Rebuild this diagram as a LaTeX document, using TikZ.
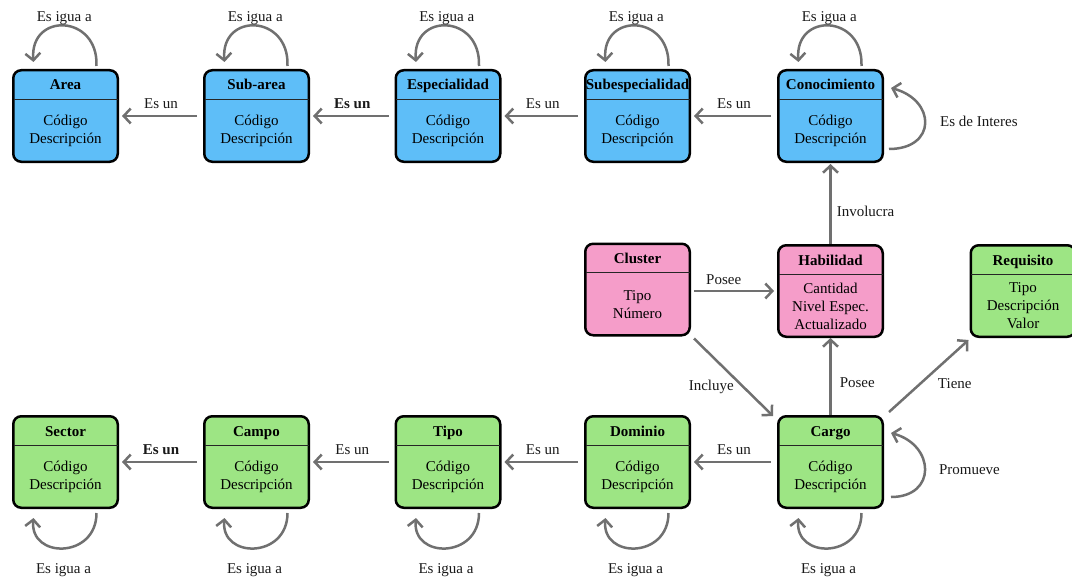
\documentclass[tikz,border=0pt]{standalone}
\usepackage{fontspec}
\setmainfont{Liberation Serif}
\usetikzlibrary{arrows.meta}

\definecolor{entblue}{RGB}{94,190,248}
\definecolor{entpink}{RGB}{245,157,201}
\definecolor{entgreen}{RGB}{157,229,132}
\definecolor{linkgray}{RGB}{112,112,112}

\tikzset{
  ebox/.style={draw=black, line width=2.5pt, rounded corners=8pt,
    minimum width=104.5pt, minimum height=91.5pt, inner sep=0pt},
  divider/.style={draw=black!85, line width=0.8pt, shorten <=1.5pt, shorten >=1.5pt},
  etitle/.style={font=\fontsize{15}{18}\selectfont\bfseries, inner sep=0pt,
    text height=10.5pt, text depth=3.5pt},
  ebody/.style={font=\fontsize{15}{18}\selectfont, align=center, inner sep=0pt},
  link/.style={draw=linkgray, line width=2.5pt,
    -{Straight Barb[length=7pt,width=15pt]}},
  lbl/.style={font=\fontsize{15}{18}\selectfont, inner sep=2pt, text=black!90},
  blbl/.style={lbl, font=\fontsize{15}{18}\selectfont\bfseries},
}

% entity box: name, x, y, fill, title, attributes
\newcommand{\entitynode}[6]{%
  \node[ebox, fill=#4] (#1) at (#2,#3) {};
  \draw[divider] ([yshift=-30pt]#1.north west) -- ([yshift=-30pt]#1.north east);
  \node[etitle] (#1-title) at ([yshift=-17.5pt]#1.north) {#5};
  \node[ebody] (#1-body) at ([yshift=32pt]#1.south) {#6};
}

% self loop above a box
\newcommand{\toploop}[1]{%
  \draw[link] ([xshift=31pt,yshift=3pt]#1.north) .. controls +(2,-52) and +(-4,-50) ..
    ([xshift=-32pt,yshift=7pt]#1.north) node[lbl, midway, above=-2pt] {Es igua a};
}
% self loop below a box
\newcommand{\bottomloop}[1]{%
  \draw[link] ([xshift=31pt,yshift=-4pt]#1.south) .. controls +(0,46) and +(-4,41) ..
    ([xshift=-32pt,yshift=-9pt]#1.south) node[lbl, midway, below=12pt] {Es igua a};
}

\begin{document}
\begin{tikzpicture}[x=1pt, y=-1pt]
  \useasboundingbox (0,0) rectangle (1072,578);

  % knowledge hierarchy
  \entitynode{area}{65.5}{116}{entblue}{Area}{Código\\Descripción}
  \entitynode{subarea}{256.5}{116}{entblue}{Sub-area}{Código\\Descripción}
  \entitynode{espec}{448}{116}{entblue}{Especialidad}{Código\\Descripción}
  \entitynode{subesp}{637.5}{116}{entblue}{Subespecialidad}{Código\\Descripción}
  \entitynode{cono}{830.5}{116}{entblue}{Conocimiento}{Código\\Descripción}

  % skills
  \entitynode{cluster}{637.5}{289.5}{entpink}{Cluster}{Tipo\\Número}
  \entitynode{habil}{830.5}{291}{entpink}{Habilidad}{Cantidad\\Nivel Espec.\\Actualizado}
  \entitynode{requi}{1023}{291}{entgreen}{Requisito}{Tipo\\Descripción\\Valor}

  % position hierarchy
  \entitynode{sector}{65.5}{462}{entgreen}{Sector}{Código\\Descripción}
  \entitynode{campo}{256.5}{462}{entgreen}{Campo}{Código\\Descripción}
  \entitynode{tipo}{448}{462}{entgreen}{Tipo}{Código\\Descripción}
  \entitynode{dominio}{637.5}{462}{entgreen}{Dominio}{Código\\Descripción}
  \entitynode{cargo}{830.5}{462}{entgreen}{Cargo}{Código\\Descripción}

  % "Es un" links, top row
  \draw[link, shorten <=6pt, shorten >=3pt] (subarea.west) -- (area.east)
    node[lbl, midway, above=4pt] {Es un};
  \draw[link, shorten <=6pt, shorten >=3pt] (espec.west) -- (subarea.east)
    node[blbl, midway, above=4pt] {Es un};
  \draw[link, shorten <=6pt, shorten >=3pt] (subesp.west) -- (espec.east)
    node[lbl, midway, above=4pt] {Es un};
  \draw[link, shorten <=6pt, shorten >=3pt] (cono.west) -- (subesp.east)
    node[lbl, midway, above=4pt] {Es un};

  % "Es un" links, bottom row
  \draw[link, shorten <=6pt, shorten >=3pt] (campo.west) -- (sector.east)
    node[blbl, midway, above=4pt] {Es un};
  \draw[link, shorten <=6pt, shorten >=3pt] (tipo.west) -- (campo.east)
    node[lbl, midway, above=4pt] {Es un};
  \draw[link, shorten <=6pt, shorten >=3pt] (dominio.west) -- (tipo.east)
    node[lbl, midway, above=4pt] {Es un};
  \draw[link, shorten <=6pt, shorten >=3pt] (cargo.west) -- (dominio.east)
    node[lbl, midway, above=4pt] {Es un};

  % equality loops
  \toploop{area}
  \toploop{subarea}
  \toploop{espec}
  \toploop{subesp}
  \toploop{cono}
  \bottomloop{sector}
  \bottomloop{campo}
  \bottomloop{tipo}
  \bottomloop{dominio}
  \bottomloop{cargo}

  % side loops
  \draw[link] ([xshift=5pt,yshift=-33pt]cono.east) .. controls +(48,0) and +(45,12) ..
    ([xshift=7pt,yshift=28pt]cono.east) node[lbl, midway, right=12pt, yshift=2pt] {Es de Interes};
  \draw[link] ([xshift=7pt,yshift=-35pt]cargo.east) .. controls +(46,0) and +(44,12) ..
    ([xshift=7pt,yshift=29pt]cargo.east) node[lbl, midway, right=11pt] {Promueve};

  % skill links
  \draw[link, shorten >=1pt] (habil.north) -- (cono.south)
    node[lbl, pos=0.4, right=3pt] {Involucra};
  \draw[link, shorten <=3pt, shorten >=3pt] (cluster.east |- habil.west) -- (habil.west)
    node[lbl, pos=0.38, above=3pt] {Posee};
  \draw[link] ([shift={(3pt,-2pt)}]cluster.south east) -- ([shift={(-4pt,-1pt)}]cargo.north west)
    node[lbl, pos=0.62, left=6pt] {Incluye};
  \draw[link] (cargo.north) -- (habil.south)
    node[lbl, pos=0.42, right=6pt] {Posee};
  \draw[link] ([shift={(5pt,3pt)}]cargo.north east) -- ([shift={(-1pt,-2pt)}]requi.south west)
    node[lbl, pos=0.55, anchor=north west, yshift=-3pt, xshift=2pt] {Tiene};
\end{tikzpicture}
\end{document}
